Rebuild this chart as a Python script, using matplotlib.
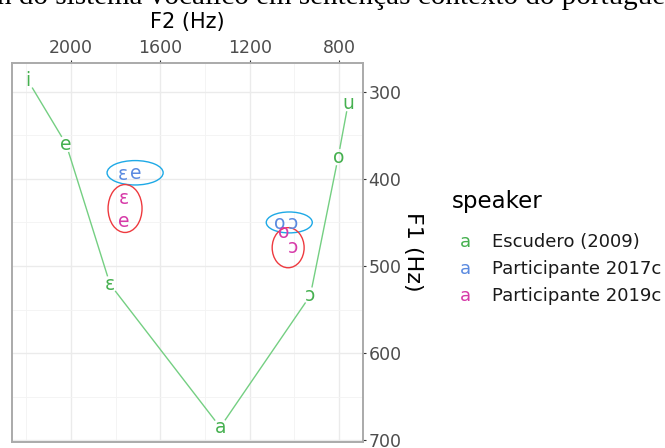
import numpy as np
import matplotlib.pyplot as plt
from matplotlib.patches import Ellipse

# Escudero (2009) reference vowels
esc_vowels = ['i', 'e', 'ɛ', 'a', 'ɔ', 'o', 'u']
esc_f2 = [2193, 2022, 1825, 1332, 929, 804, 759]
esc_f1 = [287, 360, 521, 685, 534, 375, 313]

# participants
p17_vowels = ['ɛ', 'e', 'o', 'ɔ']
p17_f2 = [1767, 1709, 1064, 1005]
p17_f1 = [395, 394, 451, 451]

p19_vowels = ['ɛ', 'e', 'o', 'ɔ']
p19_f2 = [1763, 1763, 1050, 1005]
p19_f1 = [422, 449, 462, 479]

# ellipses: centre F2, centre F1, width (Hz), height (Hz)
ell17 = [(1713, 393, 251, 28), (1023, 450, 206, 24)]
ell19 = [(1758, 434, 152, 55), (1028, 479, 143, 46)]

speakers = ['Escudero (2009)', 'Participante 2017c', 'Participante 2019c']
GREEN, BLUE, PINK = '#45b04f', '#5a8ae0', '#d63aa8'
LINE = '#74cf82'
CYAN, RED = '#1ea9e6', '#ee3a3f'

fig = plt.figure(figsize=(6.65, 4.48), dpi=100)
W, H = 665, 448
ax = fig.add_axes([12 / W, 1 - 442 / H, (363 - 12) / W, (442 - 63) / H])
ax.set_xlim(2264, 693)
ax.set_ylim(702, 267)

ax.xaxis.tick_top()
ax.xaxis.set_label_position('top')
ax.yaxis.tick_right()
ax.set_xticks([2000, 1600, 1200, 800])
ax.set_xticks([2200, 1800, 1400, 1000], minor=True)
ax.set_yticks([300, 400, 500, 600, 700])
ax.set_yticks([350, 450, 550, 650], minor=True)
ax.grid(which='major', color='#ebebeb', lw=1.0)
ax.grid(which='minor', color='#f3f3f3', lw=0.6)
ax.set_axisbelow(True)
ax.tick_params(which='minor', length=0)
ax.tick_params(axis='x', which='major', length=2.5, pad=2, width=0.8,
               color='#333333', labelcolor='#4d4d4d', labelsize=12.5)
ax.tick_params(axis='y', which='major', length=2.5, pad=1.5, width=0.8,
               color='#333333', labelcolor='#4d4d4d', labelsize=12.5)
for s in ax.spines.values():
    s.set_color('#aaaaaa')
    s.set_linewidth(1.4)

# path between Escudero vowels, with gaps round the labels
pts = ax.transData.transform(np.column_stack([esc_f2, esc_f1]))
inv = ax.transData.inverted()
gap = 9
for p0, p1 in zip(pts[:-1], pts[1:]):
    d = p1 - p0
    u = d / np.hypot(*d)
    a = inv.transform(p0 + u * gap)
    b = inv.transform(p1 - u * gap)
    ax.plot([a[0], b[0]], [a[1], b[1]], color=LINE, lw=1.0)

LAB = 13.5
for v, x, y in zip(esc_vowels, esc_f2, esc_f1):
    ax.text(x, y, v, color=GREEN, fontsize=LAB, ha='center', va='center')
for v, x, y in zip(p17_vowels, p17_f2, p17_f1):
    ax.text(x, y, v, color=BLUE, fontsize=LAB, ha='center', va='center')
for v, x, y in zip(p19_vowels, p19_f2, p19_f1):
    ax.text(x, y, v, color=PINK, fontsize=LAB, ha='center', va='center')

for cx, cy, w, h in ell17:
    ax.add_patch(Ellipse((cx, cy), w, h, fill=False, ec=CYAN, lw=1.0))
for cx, cy, w, h in ell19:
    ax.add_patch(Ellipse((cx, cy), w, h, fill=False, ec=RED, lw=1.0))

# axis titles
fig.text(187 / W, 1 - 22 / H, 'F2 (Hz)', fontsize=15, ha='center', va='center', color='black')
fig.text(413 / W, 1 - 252 / H, 'F1 (Hz)', fontsize=16, rotation=-90,
         ha='center', va='center', color='black')

# legend
fig.text(452 / W, 1 - 201 / H, 'speaker', fontsize=16.5, ha='left', va='center')
for i, (name, col) in enumerate(zip(speakers, [GREEN, BLUE, PINK])):
    yy = 1 - (242 + 27 * i) / H
    fig.text(465 / W, yy, 'a', color=col, fontsize=13, ha='center', va='center')
    fig.text(492 / W, yy, name, fontsize=13, ha='left', va='center', color='#1a1a1a')

# caption cut at the top of the page
fig.text(-0.004, 1 - 4 / H, 'n do sistema vocálico em sentenças contexto do português',
         fontsize=21, family='Liberation Serif', ha='left', va='baseline')

fig.savefig('out.png', dpi=100)
